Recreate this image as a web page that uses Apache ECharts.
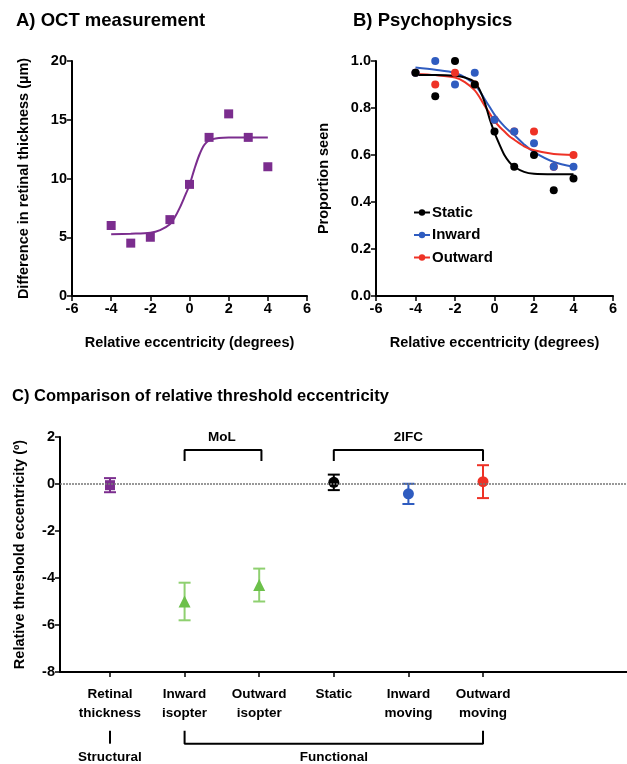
<!DOCTYPE html>
<html>
<head>
<meta charset="utf-8">
<script src="https://cdn.jsdelivr.net/npm/echarts@6/dist/echarts.min.js"></script>
<style>
  html, body { margin: 0; padding: 0; background: #fff; }
  #chart { width: 627px; height: 764px; }
</style>
</head>
<body>
<div id="chart"></div>
<script>
// ---- Panel A: OCT measurement ----
const octX = [-4, -3, -2, -1, 0, 1, 2, 3, 4];
const octY = [6, 4.5, 5, 6.5, 9.5, 13.5, 15.5, 13.5, 11];
const octFitX = [-4, -3, -2, -1.5, -1, -0.75, -0.5, -0.25, 0, 0.25, 0.5, 0.75, 1, 1.5, 2, 3, 4];
const octFitY = [5.25, 5.3, 5.38, 5.6, 6.1, 6.7, 7.5, 8.45, 9.45, 10.8, 12.0, 12.85, 13.25, 13.45, 13.5, 13.5, 13.5];

// ---- Panel B: psychophysics ----
const eccX = [-4, -3, -2, -1, 0, 1, 2, 3, 4];
const staticY = [0.95, 0.85, 1.0, 0.9, 0.7, 0.55, 0.6, 0.45, 0.5];
const inwardY = [0.95, 1.0, 0.9, 0.95, 0.75, 0.7, 0.65, 0.55, 0.55];
const outwardY = [0.95, 0.9, 0.95, 0.9, 0.75, 0.7, 0.7, 0.55, 0.6];
const fitX = [-4, -3, -2, -1.5, -1, -0.75, -0.5, -0.25, 0, 0.25, 0.5, 0.75, 1, 1.5, 2, 3, 4];
const staticFit = [0.94, 0.94, 0.937, 0.93, 0.91, 0.877, 0.825, 0.755, 0.695, 0.645, 0.60, 0.57, 0.55, 0.528, 0.52, 0.518, 0.518];
const inwardFit = [0.972, 0.963, 0.95, 0.93, 0.9, 0.872, 0.838, 0.805, 0.772, 0.745, 0.722, 0.702, 0.685, 0.645, 0.612, 0.57, 0.55];
const outwardFit = [0.945, 0.94, 0.93, 0.91, 0.875, 0.845, 0.81, 0.778, 0.745, 0.72, 0.70, 0.68, 0.665, 0.637, 0.62, 0.604, 0.6];

// ---- Panel C: relative threshold eccentricity ----
const condNames = ['Retinal\nthickness', 'Inward\nisopter', 'Outward\nisopter', 'Static', 'Inward\nmoving', 'Outward\nmoving'];
const condMean = [-0.05, -5.0, -4.3, 0.07, -0.42, 0.1];
const condErr = [0.3, 0.8, 0.7, 0.33, 0.43, 0.7];

const FONT = "'Liberation Sans', Arial, Helvetica, sans-serif";
const PURPLE = '#7b2d8e', GREEN = '#6cc04a', GREEN_BAR = '#8fd070';
const BLUE = '#2f5cc0', RED = '#ee3226', BLACK = '#000';
const condColor = [PURPLE, GREEN, GREEN, BLACK, BLUE, RED];
const condBarColor = [PURPLE, GREEN_BAR, GREEN_BAR, BLACK, BLUE, RED];
const condSymbol = ['rect', 'triangle', 'triangle', 'circle', 'circle', 'circle'];
const condSize = [10, 12, 12, 11, 11, 11];

const tickLabel = { fontFamily: FONT, fontWeight: 'bold', fontSize: 14.5, color: '#000', margin: 5 };
const axisLineStyle = { show: true, onZero: false, lineStyle: { color: '#000', width: 2 } };
const axisTick = { show: true, length: 5, lineStyle: { color: '#000', width: 1.5 } };
const nameStyle = { fontFamily: FONT, fontWeight: 'bold', fontSize: 14.5, color: '#000' };

function pairs(xs, ys) { return xs.map((x, i) => [x, ys[i]]); }

const chart = echarts.init(document.getElementById('chart'), null, { renderer: 'canvas' });

const titleStyle = { fontFamily: FONT, fontWeight: 'bold', fontSize: 18.5, color: '#000' };

chart.setOption({
  animation: false,
  backgroundColor: '#fff',
  textStyle: { fontFamily: FONT },
  title: [
    { text: 'A) OCT measurement', left: 16, top: 11, textStyle: titleStyle, padding: 0 },
    { text: 'B) Psychophysics', left: 353, top: 11, textStyle: titleStyle, padding: 0 },
    {
      text: 'C) Comparison of relative threshold eccentricity', left: 12, top: 388, padding: 0,
      textStyle: Object.assign({}, titleStyle, { fontSize: 16.5 })
    }
  ],
  legend: {
    data: ['Static', 'Inward', 'Outward'],
    orient: 'vertical',
    left: 413,
    top: 205,
    itemWidth: 16,
    itemHeight: 8,
    itemGap: 7.5,
    padding: 0,
    selectedMode: false,
    textStyle: { fontFamily: FONT, fontWeight: 'bold', fontSize: 15, color: '#000', padding: [0, 0, 0, -3] }
  },
  grid: [
    { left: 72, top: 61, width: 235, height: 235 },
    { left: 376, top: 61, width: 237, height: 235 },
    { left: 60, top: 437, right: 0, height: 235 }
  ],
  xAxis: [
    {
      gridIndex: 0, type: 'value', min: -6, max: 6, interval: 2,
      name: 'Relative eccentricity (degrees)', nameLocation: 'middle', nameGap: 39, nameTextStyle: nameStyle,
      axisLine: axisLineStyle, axisTick: axisTick, splitLine: { show: false }, axisLabel: tickLabel
    },
    {
      gridIndex: 1, type: 'value', min: -6, max: 6, interval: 2,
      name: 'Relative eccentricity (degrees)', nameLocation: 'middle', nameGap: 39, nameTextStyle: nameStyle,
      axisLine: axisLineStyle, axisTick: axisTick, splitLine: { show: false }, axisLabel: tickLabel
    },
    {
      gridIndex: 2, type: 'value', min: 0.33, max: 7.93,
      axisLine: axisLineStyle,
      axisTick: Object.assign({}, axisTick, { customValues: [1, 2, 3, 4, 5, 6] }),
      splitLine: { show: false },
      axisLabel: Object.assign({}, tickLabel, {
        customValues: [1, 2, 3, 4, 5, 6],
        fontSize: 13.5,
        margin: 13, lineHeight: 19,
        formatter: v => condNames[Math.round(v) - 1] || ''
      })
    }
  ],
  yAxis: [
    {
      gridIndex: 0, type: 'value', min: 0, max: 20, interval: 5,
      name: 'Difference in retinal thickness (µm)', nameLocation: 'middle', nameGap: 41, nameTextStyle: nameStyle,
      axisLine: axisLineStyle, axisTick: axisTick, splitLine: { show: false }, axisLabel: tickLabel
    },
    {
      gridIndex: 1, type: 'value', min: 0, max: 1, interval: 0.2,
      name: 'Proportion seen', nameLocation: 'middle', nameGap: 45, nameTextStyle: nameStyle,
      axisLine: axisLineStyle, axisTick: axisTick, splitLine: { show: false },
      axisLabel: Object.assign({}, tickLabel, { formatter: v => v.toFixed(1) })
    },
    {
      gridIndex: 2, type: 'value', min: -8, max: 2, interval: 2,
      name: 'Relative threshold eccentricity (º)', nameLocation: 'middle', nameGap: 33, nameTextStyle: nameStyle,
      axisLine: axisLineStyle, axisTick: axisTick, splitLine: { show: false }, axisLabel: tickLabel
    }
  ],
  series: [
    // Panel A
    {
      type: 'line', xAxisIndex: 0, yAxisIndex: 0, smooth: 0.3, symbol: 'none',
      data: pairs(octFitX, octFitY), lineStyle: { color: PURPLE, width: 2 }, silent: true
    },
    {
      type: 'scatter', xAxisIndex: 0, yAxisIndex: 0, symbol: 'rect', symbolSize: 9,
      data: pairs(octX, octY), itemStyle: { color: PURPLE, opacity: 1 }
    },
    // Panel B fitted curves (also give the legend its line+dot icons)
    {
      name: 'Static', type: 'line', xAxisIndex: 1, yAxisIndex: 1, smooth: 0.3, symbol: 'circle', symbolSize: 8,
      showSymbol: false, data: pairs(fitX, staticFit), lineStyle: { color: BLACK, width: 2 }, itemStyle: { color: BLACK }, z: 3
    },
    {
      name: 'Inward', type: 'line', xAxisIndex: 1, yAxisIndex: 1, smooth: 0.3, symbol: 'circle', symbolSize: 8,
      showSymbol: false, data: pairs(fitX, inwardFit), lineStyle: { color: BLUE, width: 2 }, itemStyle: { color: BLUE }, z: 2
    },
    {
      name: 'Outward', type: 'line', xAxisIndex: 1, yAxisIndex: 1, smooth: 0.3, symbol: 'circle', symbolSize: 8,
      showSymbol: false, data: pairs(fitX, outwardFit), lineStyle: { color: RED, width: 2 }, itemStyle: { color: RED }, z: 2
    },
    {
      name: 'Outward', type: 'scatter', xAxisIndex: 1, yAxisIndex: 1, symbol: 'circle', symbolSize: 8,
      data: pairs(eccX, outwardY), itemStyle: { color: RED, opacity: 1 }, z: 4
    },
    {
      name: 'Inward', type: 'scatter', xAxisIndex: 1, yAxisIndex: 1, symbol: 'circle', symbolSize: 8,
      data: pairs(eccX, inwardY), itemStyle: { color: BLUE, opacity: 1 }, z: 4
    },
    {
      name: 'Static', type: 'scatter', xAxisIndex: 1, yAxisIndex: 1, symbol: 'circle', symbolSize: 8,
      data: pairs(eccX, staticY), itemStyle: { color: BLACK, opacity: 1 }, z: 5
    },
    // Panel C: dotted zero reference line
    {
      type: 'line', xAxisIndex: 2, yAxisIndex: 2, symbol: 'none', silent: true, data: [],
      markLine: {
        silent: true, symbol: 'none', label: { show: false },
        lineStyle: { color: '#777', type: [2, 1], width: 1.5 },
        data: [{ yAxis: 0 }]
      }
    },
    // Panel C: error bars (mean ± error)
    {
      type: 'custom', xAxisIndex: 2, yAxisIndex: 2, silent: true, z: 3,
      data: condMean.map((m, i) => [i + 1, m - condErr[i], m + condErr[i]]),
      renderItem: function (params, api) {
        const x = api.value(0);
        const lo = api.coord([x, api.value(1)]);
        const hi = api.coord([x, api.value(2)]);
        const cap = 6;
        const col = condBarColor[params.dataIndex];
        const style = { stroke: col, lineWidth: 2, fill: null };
        return {
          type: 'group',
          children: [
            { type: 'line', shape: { x1: lo[0], y1: lo[1], x2: hi[0], y2: hi[1] }, style },
            { type: 'line', shape: { x1: lo[0] - cap, y1: lo[1], x2: lo[0] + cap, y2: lo[1] }, style },
            { type: 'line', shape: { x1: hi[0] - cap, y1: hi[1], x2: hi[0] + cap, y2: hi[1] }, style }
          ]
        };
      }
    },
    // Panel C: mean markers
    {
      type: 'scatter', xAxisIndex: 2, yAxisIndex: 2, z: 4,
      data: condMean.map((m, i) => ({
        value: [i + 1, m],
        symbol: condSymbol[i],
        symbolSize: condSize[i],
        itemStyle: { color: condColor[i], opacity: 1 }
      }))
    },
    // Panel C: group brackets
    {
      type: 'line', xAxisIndex: 2, yAxisIndex: 2, symbol: 'none', silent: true, clip: false,
      lineStyle: { color: '#000', width: 2 },
      data: [[2, 0.98], [2, 1.45], [3.03, 1.45], [3.03, 0.98]]
    },
    {
      type: 'line', xAxisIndex: 2, yAxisIndex: 2, symbol: 'none', silent: true, clip: false,
      lineStyle: { color: '#000', width: 2 },
      data: [[4, 0.98], [4, 1.45], [6, 1.45], [6, 0.98]]
    },
    {
      type: 'line', xAxisIndex: 2, yAxisIndex: 2, symbol: 'none', silent: true, clip: false,
      lineStyle: { color: '#000', width: 2 },
      data: [[2, -10.5], [2, -11.05], [6, -11.05], [6, -10.5]]
    },
    {
      type: 'line', xAxisIndex: 2, yAxisIndex: 2, symbol: 'none', silent: true, clip: false,
      lineStyle: { color: '#000', width: 2 },
      data: [[1, -10.5], [1, -11.05]]
    },
    // Panel C: group labels
    {
      type: 'scatter', xAxisIndex: 2, yAxisIndex: 2, symbol: 'circle', symbolSize: 2, silent: true, clip: false,
      itemStyle: { color: 'rgba(0,0,0,0)' },
      label: {
        show: true, position: 'inside', opacity: 1, formatter: p => p.data.name,
        fontFamily: FONT, fontWeight: 'bold', fontSize: 13.5, color: '#000'
      },
      data: [
        { name: 'MoL', value: [2.5, 1.97] },
        { name: '2IFC', value: [5, 1.97] },
        { name: 'Structural', value: [1, -11.65] },
        { name: 'Functional', value: [4, -11.65] }
      ]
    }
  ]
});
</script>
</body>
</html>
